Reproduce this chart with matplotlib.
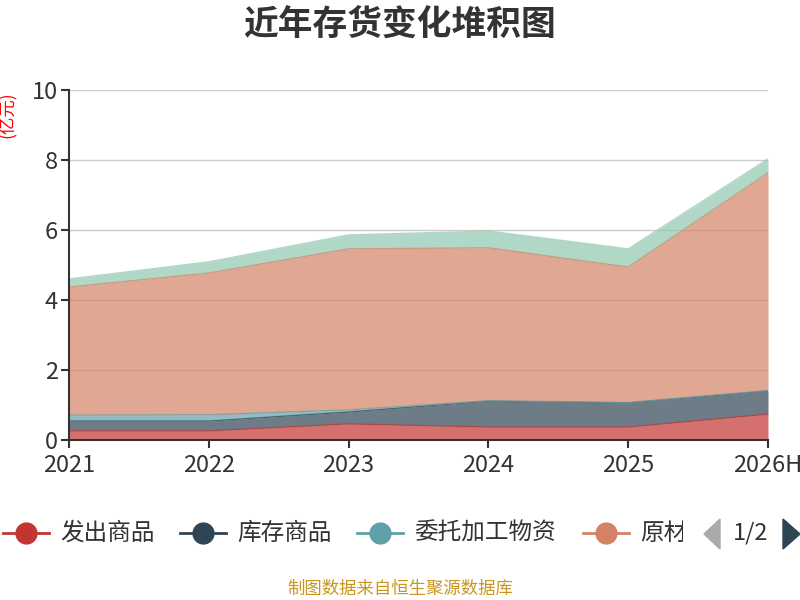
import matplotlib
matplotlib.use("Agg")
import matplotlib.pyplot as plt
from matplotlib.lines import Line2D
from matplotlib.patches import Polygon, Rectangle
import numpy as np

plt.rcParams["font.family"] = ["Noto Sans CJK SC", "DejaVu Sans"]

# data (亿元)
years = ["2021", "2022", "2023", "2024", "2025", "2026H"]
series_names = ["发出商品", "库存商品", "委托加工物资", "原材料", "在产品"]
fachu = [0.26, 0.26, 0.46, 0.37, 0.37, 0.74]
kucun = [0.28, 0.28, 0.34, 0.74, 0.69, 0.66]
weituo = [0.17, 0.18, 0.06, 0.01, 0.01, 0.01]
yuancailiao = [3.66, 4.05, 4.60, 4.37, 3.87, 6.22]
zaichanpin = [0.23, 0.32, 0.40, 0.48, 0.52, 0.40]
colors = ["#c23531", "#2f4554", "#61a0a8", "#d48265", "#91c7ae"]

values = [fachu, kucun, weituo, yuancailiao, zaichanpin]

fig = plt.figure(figsize=(8, 6), dpi=100)
ax = fig.add_axes([69 / 800, 1 - 440 / 600, 699 / 800, 350 / 600])

x = np.arange(len(years))
base = np.zeros(len(years))
for name, vals, c in zip(series_names, values, colors):
    top = base + np.array(vals)
    ax.fill_between(x, base, top, color=c, alpha=0.7, linewidth=0, zorder=2)
    ax.plot(x, top, color=c, lw=1, alpha=0.7, zorder=3)
    base = top

ax.set_xlim(0, len(years) - 1)
ax.set_ylim(0, 10)
ax.set_yticks(range(0, 11, 2))
ax.set_xticks(x)
ax.set_xticklabels(years)
ax.grid(axis="y", color="#cccccc", lw=1, zorder=1)
ax.set_axisbelow(True)
for s in ["top", "right"]:
    ax.spines[s].set_visible(False)
for s in ["left", "bottom"]:
    ax.spines[s].set_color("#333333")
    ax.spines[s].set_linewidth(1.5)
    ax.spines[s].set_zorder(4)
ax.tick_params(axis="both", colors="#333333", labelsize=17, length=6, width=1.5,
               direction="out", pad=2)
ax.tick_params(axis="x", pad=4)

fig.text(8 / 800, 1 - 115 / 600, "(亿元)", color="red", fontsize=12.5,
         rotation=90, ha="center", va="center")

fig.text(0.5, 1 - 24 / 600, "近年存货变化堆积图", fontsize=25, fontweight="bold",
         color="#333333", ha="center", va="center")

# legend, first page only (the fourth item is cut off as in the original)
leg_y = 1 - 533 / 600
icon_x = [26, 203, 380, 606]
clip = Rectangle((0, 0), 683 / 800, 1, transform=fig.transFigure, visible=False)
fig.add_artist(clip)
for i, cx in enumerate(icon_x):
    c = colors[i]
    fig.add_artist(Line2D([(cx - 23) / 800, (cx + 23) / 800], [leg_y, leg_y],
                          transform=fig.transFigure, color=c, lw=2))
    fig.add_artist(Line2D([cx / 800], [leg_y], transform=fig.transFigure,
                          marker="o", markersize=15, color=c, lw=0))
    t = fig.text((cx + 34) / 800, leg_y, series_names[i], fontsize=17,
                 color="#333333", ha="left", va="center")
    t.set_clip_path(clip)

fig.add_artist(Polygon([[720 / 800, 1 - 519 / 600], [720 / 800, 1 - 549 / 600],
                        [704 / 800, 1 - 534 / 600]], closed=True,
                       transform=fig.transFigure, color="#aaaaaa"))
fig.add_artist(Polygon([[783 / 800, 1 - 519 / 600], [783 / 800, 1 - 549 / 600],
                        [800 / 800, 1 - 534 / 600]], closed=True,
                       transform=fig.transFigure, color="#2f4554"))
fig.text(751 / 800, leg_y, "1/2", fontsize=17, color="#333333",
         ha="center", va="center")

fig.text(0.5, 1 - 589 / 600, "制图数据来自恒生聚源数据库", fontsize=12.5,
         color="#c8961e", ha="center", va="center")

fig.savefig("out.png", dpi=100)
